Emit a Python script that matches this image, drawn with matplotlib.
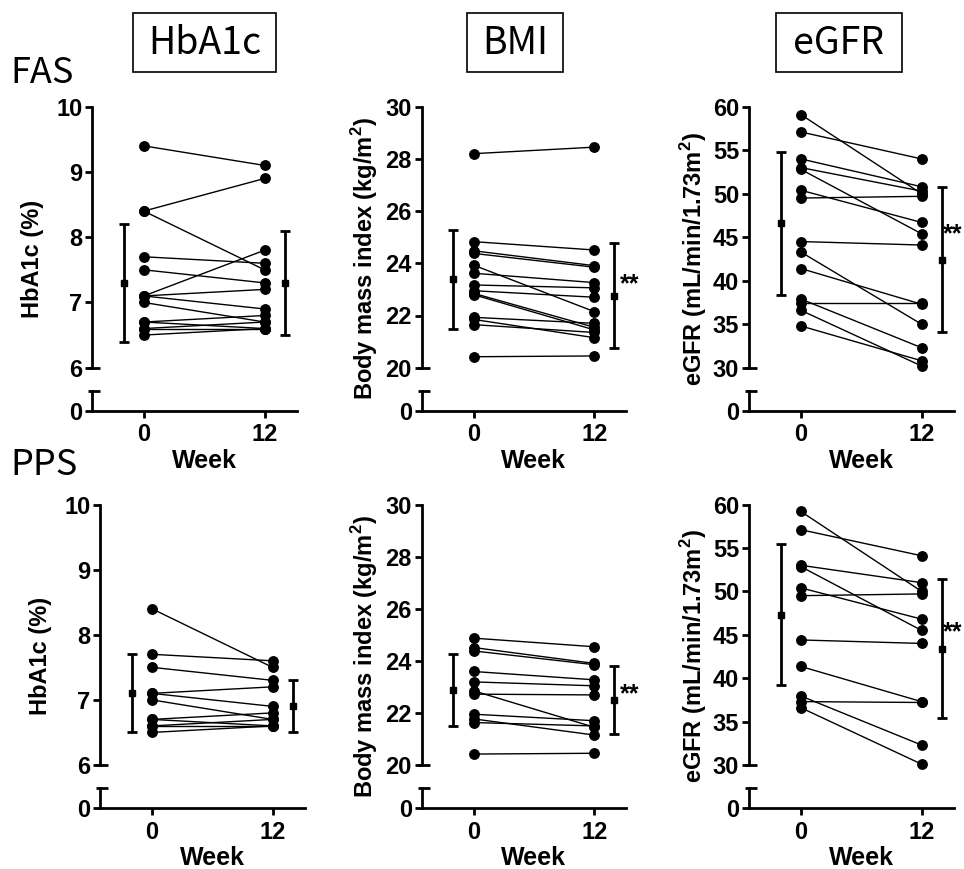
import matplotlib.pyplot as plt
from matplotlib.patches import Rectangle

plt.rcParams['font.family'] = ['Liberation Sans', 'DejaVu Sans']
plt.rcParams['font.weight'] = 'bold'
plt.rcParams['mathtext.fontset'] = 'custom'
plt.rcParams['mathtext.rm'] = 'Liberation Sans'
plt.rcParams['mathtext.bf'] = 'Liberation Sans:bold'

# ---- data ----
weeks = [0, 12]
bar_x = [-2, 14]          # where the mean +- SD bars sit

fas_hba1c_w0 = [9.4, 8.4, 8.4, 7.7, 7.5, 7.1, 7.1, 7.1, 7.0, 6.7, 6.7, 6.6, 6.6, 6.5]
fas_hba1c_w12 = [9.1, 8.9, 7.5, 7.6, 7.3, 7.8, 7.2, 6.9, 6.7, 6.8, 6.6, 6.6, 6.7, 6.6]
fas_hba1c_mean = [7.3, 7.3]
fas_hba1c_sd = [0.9, 0.8]

fas_bmi_w0 = [28.2, 24.83, 24.48, 24.38, 23.93, 23.62, 23.17, 22.95, 22.85, 22.8, 21.93, 21.85, 21.65, 20.42]
fas_bmi_w12 = [28.45, 24.51, 23.91, 23.85, 22.15, 23.26, 23.06, 22.7, 21.55, 21.45, 21.7, 21.15, 21.35, 20.45]
fas_bmi_mean = [23.38, 22.76]
fas_bmi_sd = [1.9, 2.0]

fas_egfr_w0 = [59.1, 57.1, 54.0, 53.0, 52.8, 50.4, 49.5, 44.5, 43.3, 41.4, 37.9, 37.4, 36.6, 34.8]
fas_egfr_w12 = [50.0, 54.0, 50.8, 50.3, 45.4, 46.7, 49.7, 44.1, 35.0, 37.3, 32.3, 37.4, 30.2, 30.8]
fas_egfr_mean = [46.6, 42.4]
fas_egfr_sd = [8.2, 8.35]

pps_hba1c_w0 = [8.4, 7.7, 7.5, 7.1, 7.1, 7.0, 6.7, 6.7, 6.6, 6.6, 6.5]
pps_hba1c_w12 = [7.5, 7.6, 7.3, 7.2, 6.9, 6.7, 6.8, 6.6, 6.6, 6.7, 6.6]
pps_hba1c_mean = [7.1, 6.9]
pps_hba1c_sd = [0.6, 0.4]

pps_bmi_w0 = [24.87, 24.51, 24.38, 23.59, 23.19, 22.85, 22.72, 21.95, 21.77, 21.63, 20.42]
pps_bmi_w12 = [24.54, 23.9, 23.85, 23.27, 23.04, 21.45, 22.69, 21.7, 21.15, 21.5, 20.45]
pps_bmi_mean = [22.88, 22.49]
pps_bmi_sd = [1.4, 1.3]

pps_egfr_w0 = [59.2, 57.1, 53.0, 52.85, 50.4, 49.5, 44.4, 41.35, 37.95, 37.3, 36.6]
pps_egfr_w12 = [50.0, 54.1, 51.0, 45.5, 46.8, 49.7, 44.0, 37.3, 32.3, 37.2, 30.1]
pps_egfr_mean = [47.3, 43.4]
pps_egfr_sd = [8.1, 8.0]

hba1c_ticks = [6, 7, 8, 9, 10]
bmi_ticks = [20, 22, 24, 26, 28, 30]
egfr_ticks = [30, 35, 40, 45, 50, 55, 60]

W, H = 964, 869
XLIM = (-5.15, 15.2)
PX_PER_UNIT = 10.06

fig = plt.figure(figsize=(W / 100, H / 100), dpi=100)


def fx(px):
    return px / W


def fy(py):
    return 1 - py / H


def draw_panel(spine_x, top, bot, brk, zero, yticks, w0, w12, means, sds,
               ylabel, label_x, stars=None):
    width = (XLIM[1] - XLIM[0]) * PX_PER_UNIT / W
    ax = fig.add_axes([fx(spine_x), fy(bot), width, (bot - top) / H])
    ax0 = fig.add_axes([fx(spine_x), fy(zero), width, (zero - brk) / H])

    for a in (ax, ax0):
        a.set_xlim(XLIM)
        a.spines['top'].set_visible(False)
        a.spines['right'].set_visible(False)
        a.spines['left'].set_linewidth(2)
        a.spines['bottom'].set_linewidth(2)
        a.tick_params(width=2, length=5, labelsize=17, pad=2)
        a.patch.set_visible(False)

    ax.set_ylim(yticks[0], yticks[-1])
    ax.set_yticks(yticks)
    ax.spines['bottom'].set_visible(False)
    ax.set_xticks([])

    ax0.set_ylim(0, 1)
    ax0.set_yticks([0])
    ax0.set_xticks(weeks)
    ax0.tick_params(axis='x', pad=4)

    # caps at the axis break
    cap = [XLIM[0] - 0.35, XLIM[0] + 0.8]
    ax.plot(cap, [yticks[0], yticks[0]], color='black', lw=2, clip_on=False,
            solid_capstyle='butt')
    ax0.plot(cap, [1, 1], color='black', lw=2, clip_on=False,
             solid_capstyle='butt')

    for a, b in zip(w0, w12):
        ax.plot(weeks, [a, b], color='black', lw=1.0, marker='o', ms=6.8,
                clip_on=False, zorder=3)

    ax.errorbar(bar_x, means, yerr=sds, fmt='s', ms=4.8, color='black',
                elinewidth=2, capsize=3.6, capthick=2, clip_on=False)

    fig.text(fx(label_x), fy((top + zero) / 2), ylabel, rotation=90,
             ha='center', va='center', fontsize=17, fontweight='bold')
    mid = spine_x + (0 - XLIM[0]) * PX_PER_UNIT + 6 * PX_PER_UNIT
    fig.text(fx(mid), fy(zero + 57), 'Week', ha='center', va='baseline',
             fontsize=18, fontweight='bold')
    if stars:
        fig.text(fx(stars[0]), fy(stars[1] + 14), '**', ha='left',
                 va='baseline', fontsize=18, fontweight='bold')


hba1c_label = 'HbA1c (%)'
bmi_label = r'Body mass index (kg/m$^\mathbf{2}$)'
egfr_label = r'eGFR (mL/min/1.73m$^\mathbf{2}$)'

# FAS row
draw_panel(92, 106.7, 367.7, 391, 410.7, hba1c_ticks, fas_hba1c_w0,
           fas_hba1c_w12, fas_hba1c_mean, fas_hba1c_sd, hba1c_label, 33)
draw_panel(421.7, 106.7, 367.7, 391, 410.7, bmi_ticks, fas_bmi_w0,
           fas_bmi_w12, fas_bmi_mean, fas_bmi_sd, bmi_label, 365,
           stars=(620, 277))
draw_panel(749, 106.7, 367.7, 391, 410.7, egfr_ticks, fas_egfr_w0,
           fas_egfr_w12, fas_egfr_mean, fas_egfr_sd, egfr_label, 694,
           stars=(943, 227))

# PPS row
draw_panel(100, 504.5, 765, 788.3, 808.3, hba1c_ticks, pps_hba1c_w0,
           pps_hba1c_w12, pps_hba1c_mean, pps_hba1c_sd, hba1c_label, 41)
draw_panel(421.7, 504.5, 765, 788.3, 808.3, bmi_ticks, pps_bmi_w0,
           pps_bmi_w12, pps_bmi_mean, pps_bmi_sd, bmi_label, 365,
           stars=(620, 687))
draw_panel(749, 504.5, 765, 788.3, 808.3, egfr_ticks, pps_egfr_w0,
           pps_egfr_w12, pps_egfr_mean, pps_egfr_sd, egfr_label, 694,
           stars=(943, 625))

# column headers in boxes
header_font = ['Noto Sans CJK JP', 'DejaVu Sans']
headers = ['HbA1c', 'BMI', 'eGFR']
header_boxes = [(133, 276), (467, 563), (776, 902)]
for name, (x0, x1) in zip(headers, header_boxes):
    fig.patches.append(Rectangle((fx(x0), fy(72)), (x1 - x0) / W, 59 / H,
                                 transform=fig.transFigure, fill=False,
                                 lw=1.2, edgecolor='black'))
    fig.text(fx((x0 + x1) / 2), fy(43), name, ha='center', va='center',
             fontsize=27, fontweight='normal', family=header_font)

fig.text(fx(10), fy(73), 'FAS', ha='left', va='center', fontsize=26,
         fontweight='normal', family=header_font)
fig.text(fx(10), fy(465), 'PPS', ha='left', va='center', fontsize=26,
         fontweight='normal', family=header_font)

fig.savefig('out.png', dpi=100)
